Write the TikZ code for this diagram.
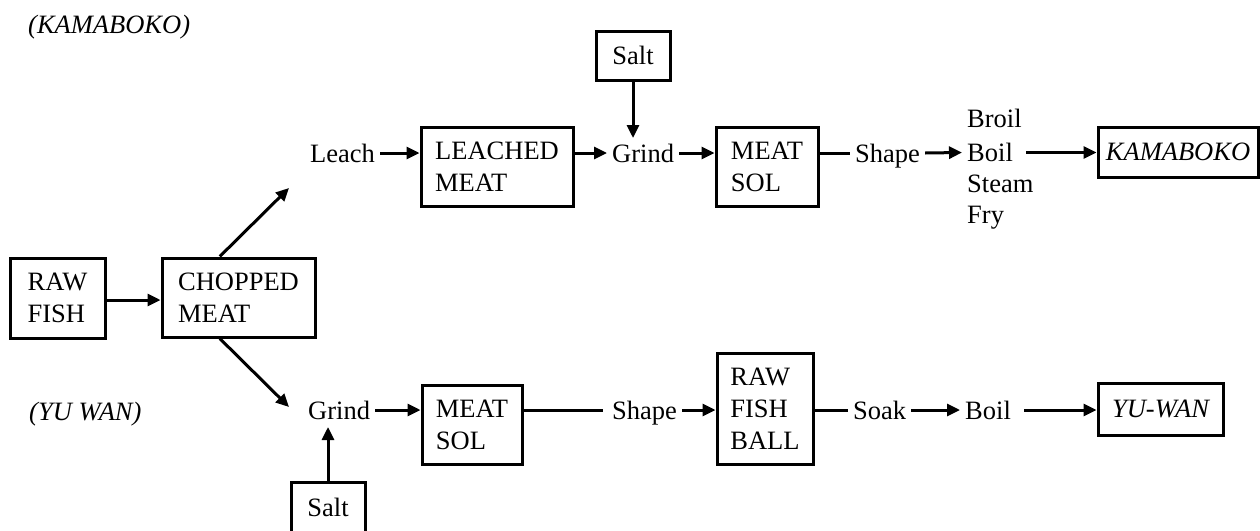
\documentclass[tikz,border=0pt]{standalone}
\usepackage{fontspec}
\setmainfont{Liberation Serif}
\usetikzlibrary{arrows.meta,calc}
\begin{document}
\begin{tikzpicture}[x=1pt,y=-1pt,
  every node/.style={font=\fontsize{26.5}{32}\selectfont},
  lbl/.style={anchor=west,inner xsep=5pt,inner ysep=0pt,text height=18pt,text depth=0pt},
  box/.style={draw,line width=3pt,inner sep=0pt,align=left},
  ttl/.style={anchor=base west,inner sep=0pt,font=\fontsize{26.5}{32}\selectfont\itshape},
  conn/.style={line width=3pt},
  arr/.style={conn,-{Triangle[length=13pt,width=12pt]}}]
\useasboundingbox (0,0) rectangle (1260,530);

% titles
\node[ttl] (t1) at (28,33) {(KAMABOKO)};
\node[ttl] (t2) at (29,420) {(YU WAN)};

% left boxes
\node[box,minimum width=95pt,minimum height=80pt] (raw) at (57.5,298) {RAW\\FISH};
\node[box,minimum width=153pt,minimum height=79pt] (chop) at (238.5,297.5) {CHOPPED\\MEAT};

% top row
\node[lbl] (leach) at (305,153) {Leach};
\node[box,minimum width=152pt,minimum height=79pt] (leached) at (497,166.5) {LEACHED\\MEAT};
\node[box,minimum width=74pt,minimum height=49pt] (salt1) at (633,55.5) {Salt};
\node[lbl] (grind1) at (607,153) {Grind};
\node[box,minimum width=102pt,minimum height=79pt] (sol1) at (767,166.5) {MEAT\\SOL};
\node[lbl] (shape1) at (850,153) {Shape};
\node[lbl] (broil) at (962,118) {Broil};
\node[lbl] (boil1) at (962,152.5) {Boil};
\node[lbl] (steam) at (962,183) {Steam};
\node[lbl] (fry) at (962,214) {Fry};
\node[box,minimum width=160pt,minimum height=50pt,font=\fontsize{26.5}{32}\selectfont\itshape] (kam) at (1178,152) {KAMABOKO};

% bottom row
\node[lbl] (grind2) at (303,410) {Grind};
\node[box,minimum width=74pt,minimum height=50pt] (salt2) at (328,507) {Salt};
\node[box,minimum width=100pt,minimum height=79pt] (sol2) at (472,424.5) {MEAT\\SOL};
\node[lbl] (shape2) at (607,410) {Shape};
\node[box,minimum width=96pt,minimum height=111pt] (ball) at (765,408.5) {RAW\\FISH\\BALL};
\node[lbl] (soak) at (848,410) {Soak};
\node[lbl] (boil2) at (960,410) {Boil};
\node[box,minimum width=125pt,minimum height=52pt,font=\fontsize{26.5}{32}\selectfont\itshape] (yw) at (1160.5,409) {YU-WAN};

% connectors
\draw[arr] (raw.east |- 0,300) -- (chop.west |- 0,300);
\coordinate (upend) at (289,188);
\coordinate (downend) at (289,407);
\draw[arr] ($(chop.north west)!0.38!(chop.north east)$) -- (upend);
\draw[arr] ($(chop.south west)!0.38!(chop.south east)$) -- (downend);

\draw[arr] (leach.east) -- (leach.east -| leached.west);
\draw[arr] (leached.east |- grind1.west) -- (grind1.west);
\draw[arr] (salt1.south) -- (salt1.south |- 0,138);
\draw[arr] (grind1.east) -- (grind1.east -| sol1.west);
\draw[conn] (sol1.east |- shape1.west) -- (shape1.west);
\draw[arr] (shape1.east) -- (boil1.west);
\draw[arr,shorten <=8pt] (boil1.east) -- (boil1.east -| kam.west);

\draw[arr] (grind2.east) -- (grind2.east -| sol2.west);
\draw[arr] (salt2.north) -- (salt2.north |- 0,427);
\draw[conn] (sol2.east |- shape2.west) -- ([xshift=-4pt]shape2.west);
\draw[arr] (shape2.east) -- (shape2.east -| ball.west);
\draw[conn] (ball.east |- soak.west) -- (soak.west);
\draw[arr] (soak.east) -- (boil2.west);
\draw[arr,shorten <=8pt] (boil2.east) -- (boil2.east -| yw.west);
\end{tikzpicture}
\end{document}
